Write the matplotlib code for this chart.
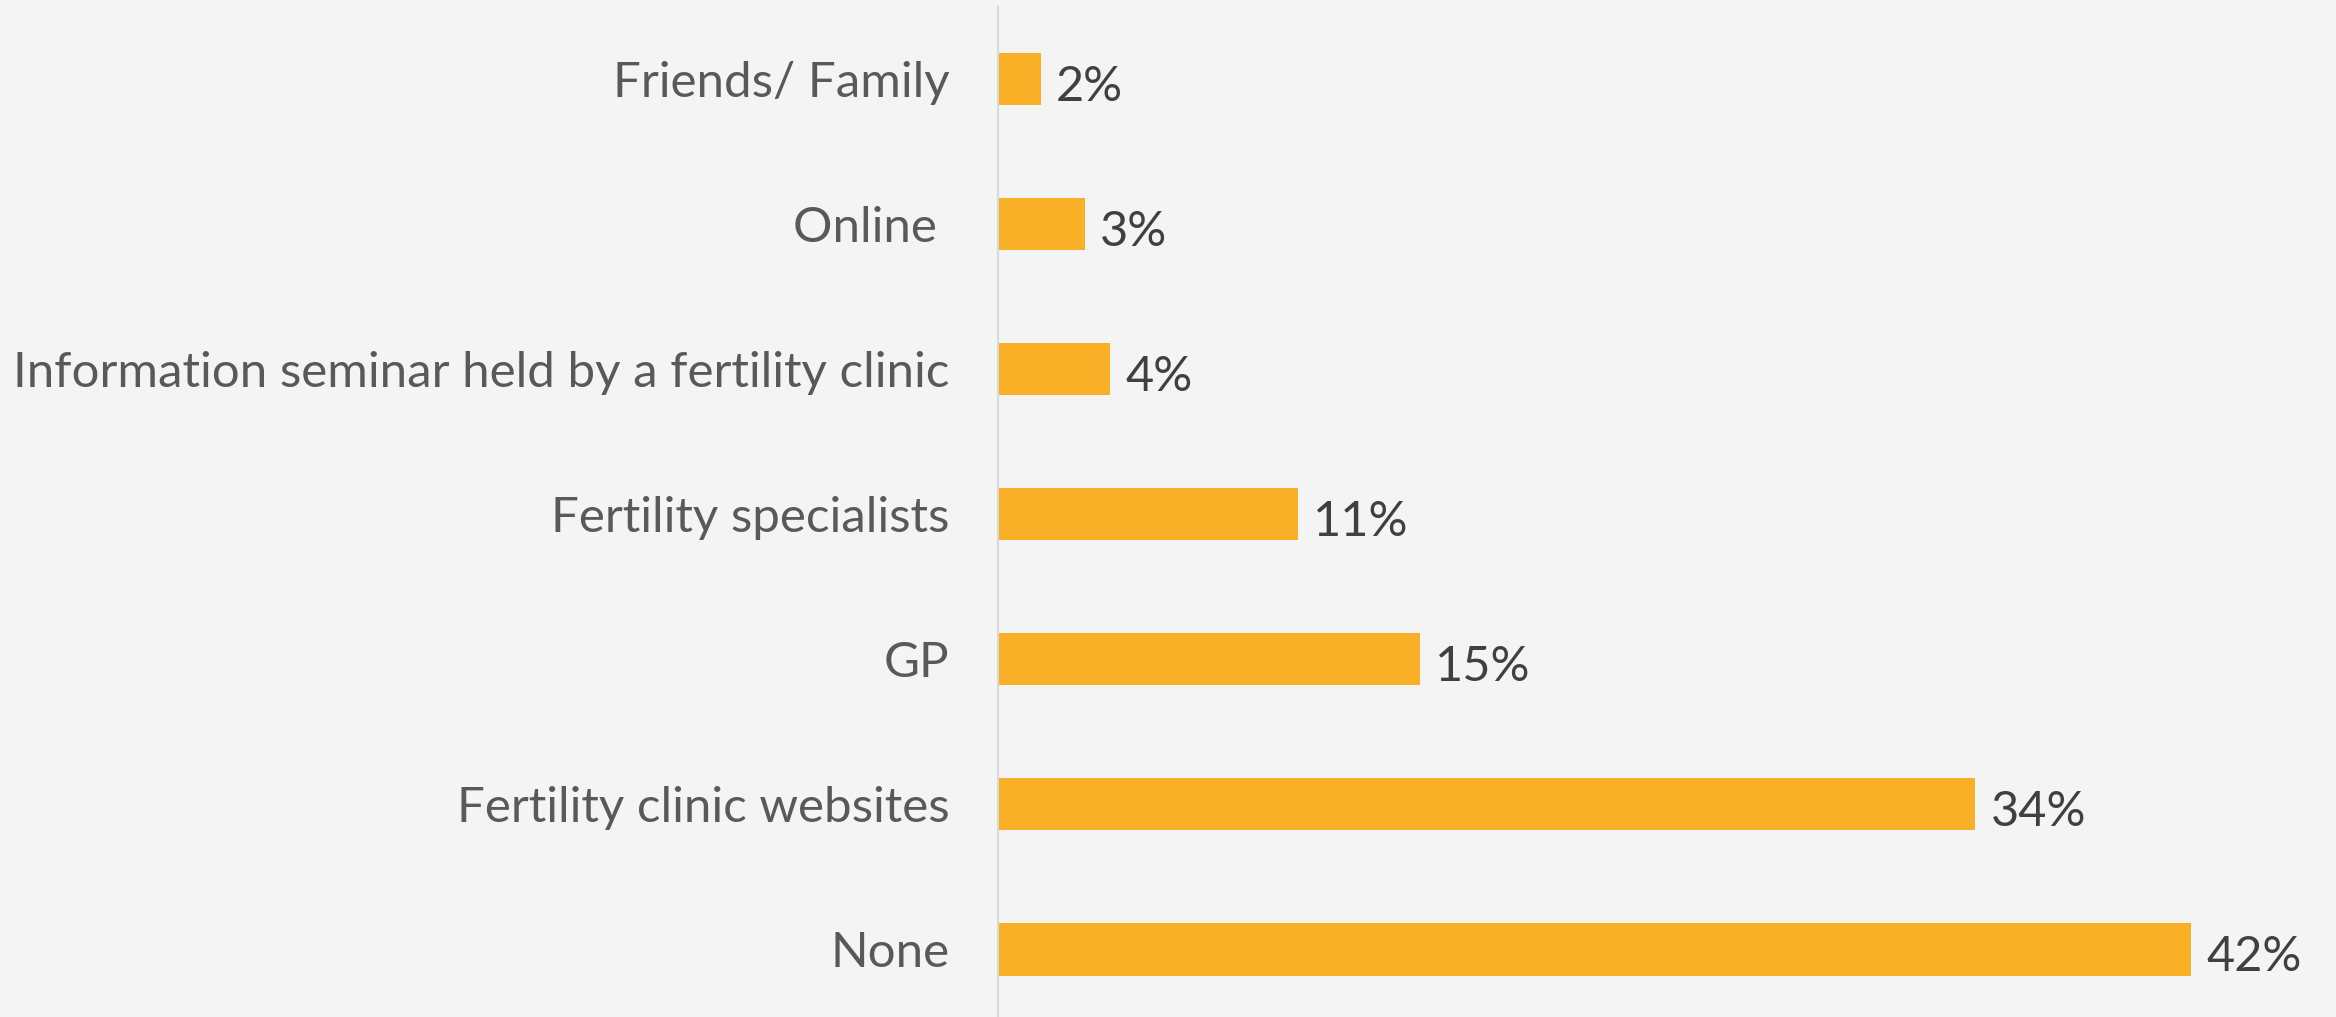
import matplotlib.pyplot as plt

categories = ["Friends/ Family", "Online ", "Information seminar held by a fertility clinic",
              "Fertility specialists", "GP", "Fertility clinic websites", "None"]
values = [1.5, 3.05, 3.95, 10.55, 14.85, 34.4, 42.0]
labels = ["2%", "3%", "4%", "11%", "15%", "34%", "42%"]

bg = "#f4f4f4"
bar_color = "#f9b026"

plt.rcParams['font.family'] = ['Lato', 'DejaVu Sans']

fig = plt.figure(figsize=(23.36, 10.17), dpi=100, facecolor=bg)
ax = fig.add_axes([0.4272, -0.0049, 0.5728, 0.9985])
ax.set_facecolor(bg)

ypos = list(range(len(categories)))
bars = ax.barh(ypos, values, height=0.36, color=bar_color)
for b, txt in zip(bars, labels):
  # value label sits just about on the bottom edge of the bar
  ax.text(b.get_width() + 0.55, b.get_y() + b.get_height() - 0.03, txt,
          va="baseline", ha="left", fontsize=35, color="#404040")

ax.set_xlim(0, 47.1)
ax.set_ylim(len(categories) - 0.5, -0.5)
ax.set_yticks(ypos)
ax.set_yticklabels(categories, fontsize=35.5, color="#595959", va="center_baseline")
ax.tick_params(axis="y", length=0, pad=35)
ax.set_xticks([])
for side in ["top", "right", "bottom"]:
  ax.spines[side].set_visible(False)
ax.spines["left"].set_color("#d9d9d9")
ax.spines["left"].set_linewidth(1.5)

fig.savefig("out.png", dpi=100, facecolor=bg)
